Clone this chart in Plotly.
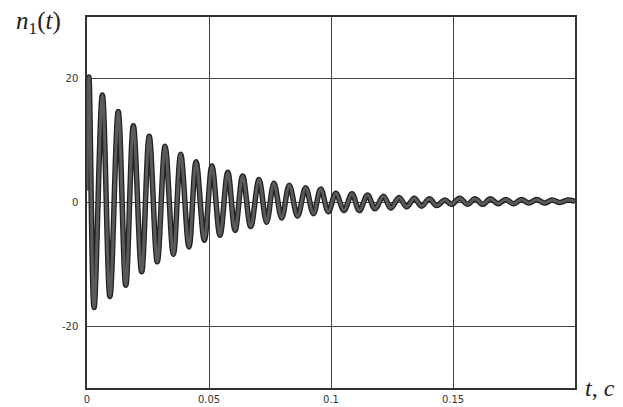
import plotly.graph_objects as go

# Peak/trough readings of n1(t)
t_values = [
    0.0000, 0.0008, 0.0029, 0.0063, 0.0094, 0.0128, 0.0159, 0.0190, 0.0224, 0.0255,
    0.0288, 0.0320, 0.0354, 0.0384, 0.0418, 0.0447, 0.0481, 0.0512, 0.0545, 0.0577,
    0.0607, 0.0638, 0.0671, 0.0705, 0.0736, 0.0766, 0.0798, 0.0829, 0.0863, 0.0896,
    0.0928, 0.0958, 0.0989, 0.1020, 0.1053, 0.1086, 0.1116, 0.1150, 0.1180, 0.1215,
    0.1245, 0.1279, 0.1310, 0.1341, 0.1371, 0.1403, 0.1433, 0.1467, 0.1494, 0.1527,
    0.1560, 0.1590, 0.1622, 0.1653, 0.1685, 0.1716, 0.1748, 0.1780, 0.1811, 0.1843,
    0.1875, 0.1906, 0.1938, 0.1970, 0.2000,
]
n1_values = [
    2.0, 20.3, -17.0, 17.4, -15.2, 14.7, -13.4, 12.4, -11.2, 10.7,
    -9.6, 9.1, -8.4, 7.8, -7.2, 6.6, -6.1, 5.9, -5.3, 4.9,
    -4.5, 4.3, -3.9, 3.7, -3.2, 3.1, -2.5, 2.8, -2.2, 2.4,
    -1.8, 2.2, -1.5, 1.5, -1.3, 1.4, -1.3, 1.2, -1.0, 1.0,
    -0.9, 0.8, -0.7, 0.7, -0.6, 0.6, -0.5, 0.4, -0.3, 0.7,
    -0.3, 0.6, -0.3, 0.6, -0.2, 0.5, -0.2, 0.5, -0.1, 0.5,
    -0.1, 0.4, 0.0, 0.4, 0.2,
]
x_tick_vals = [0, 0.05, 0.1, 0.15]
x_tick_text = ["0", "0.05", "0.1", "0.15"]
y_tick_vals = [-20, 0, 20]
y_tick_text = ["-20", "0", "20"]

fig = go.Figure()
fig.add_trace(go.Scatter(
    x=t_values, y=n1_values, mode="lines",
    line=dict(color="#222222", width=5.5, shape="spline", smoothing=1.0),
    hoverinfo="skip", showlegend=False,
))
fig.add_trace(go.Scatter(
    x=t_values, y=n1_values, mode="lines",
    line=dict(color="#5a5a5a", width=3, shape="spline", smoothing=1.0),
    showlegend=False,
))

tick_font = dict(family="DejaVu Sans", size=10, color="#333333")
fig.update_layout(
    width=623, height=407,
    margin=dict(l=87, r=48, t=17, b=19),
    paper_bgcolor="white", plot_bgcolor="white",
    xaxis=dict(
        range=[0, 0.2], tickmode="array", tickvals=x_tick_vals, ticktext=x_tick_text,
        showgrid=True, gridcolor="#444444", gridwidth=1.3,
        showline=True, linecolor="#333333", linewidth=1.5, mirror=True,
        zeroline=False, ticks="", tickfont=tick_font, ticklabelstandoff=1,
        automargin=False,
    ),
    yaxis=dict(
        range=[-30, 30], tickmode="array", tickvals=y_tick_vals, ticktext=y_tick_text,
        showgrid=True, gridcolor="#444444", gridwidth=1.3,
        showline=True, linecolor="#333333", linewidth=1.5, mirror=True,
        zeroline=False, ticks="", tickfont=tick_font, ticklabelstandoff=5,
        automargin=False,
    ),
    annotations=[
        dict(text="<i>n</i><sub>1</sub>(<i>t</i>)", xref="paper", yref="paper",
             x=-0.15, y=0.985, xanchor="left", yanchor="middle", showarrow=False,
             font=dict(family="Liberation Serif", size=25, color="#222222")),
        dict(text="<i>t</i>, <i>c</i>", xref="paper", yref="paper",
             x=1.016, y=0.0, xanchor="left", yanchor="middle", showarrow=False,
             font=dict(family="Liberation Serif", size=24, color="#222222")),
    ],
)
fig.write_html("out.html")
